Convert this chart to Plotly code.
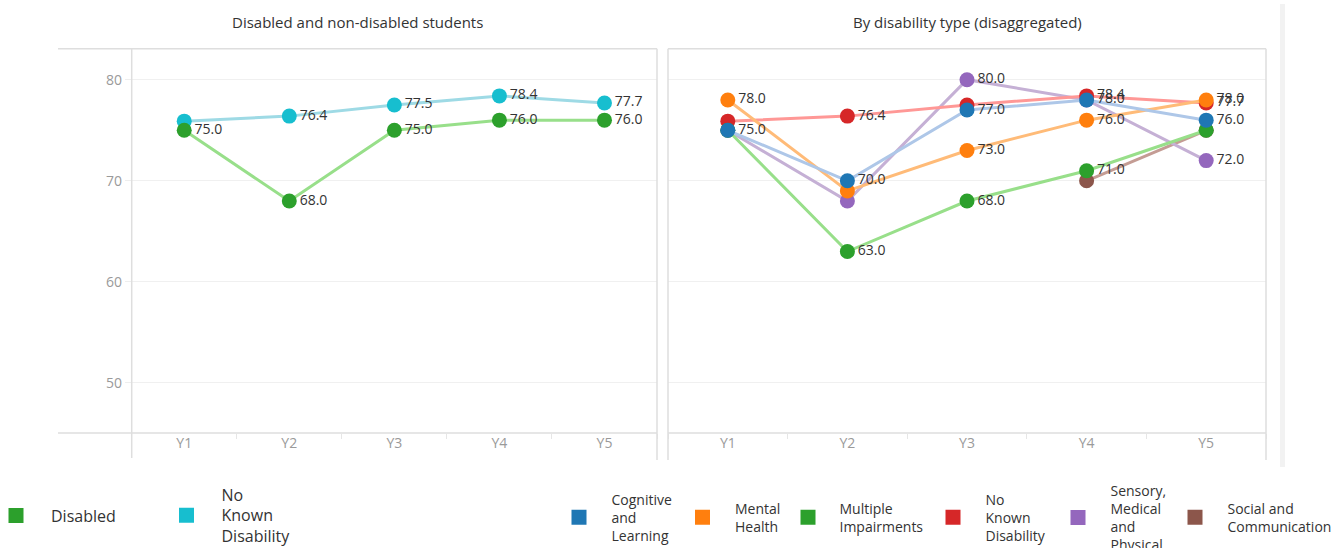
import plotly.graph_objects as go

W, H = 1342, 548

years = ["Y1", "Y2", "Y3", "Y4", "Y5"]

# ---- Left panel: Disabled and non-disabled students ----
disabled = [75.0, 68.0, 75.0, 76.0, 76.0]
no_known_left = [75.9, 76.4, 77.5, 78.4, 77.7]

# ---- Right panel: by disability type ----
cognitive = [75.0, 70.0, 77.0, 78.0, 76.0]
mental = [78.0, 69.0, 73.0, 76.0, 78.0]
multiple = [75.0, 63.0, 68.0, 71.0, 75.0]
no_known_right = [75.9, 76.4, 77.5, 78.4, 77.7]
sensory = [75.0, 68.0, 80.0, 78.0, 72.0]
social = [None, None, None, 70.0, 75.0]

# data labels that remain visible (overlapping ones are hidden in the original)
show_disabled = [1, 1, 1, 1, 1]
show_no_known_left = [0, 1, 1, 1, 1]
show_cognitive = [1, 1, 1, 1, 1]
show_mental = [1, 0, 1, 1, 1]
show_multiple = [0, 1, 1, 1, 0]
show_no_known_right = [0, 1, 0, 1, 1]
show_sensory = [0, 0, 1, 0, 1]
show_social = [0, 0, 0, 0, 0]

FONT = "Open Sans"


def px_x(p):
    return p / W


def px_y(p):
    return 1 - p / H


def labels(vals, mask):
    return [f"{v:.1f}" if (v is not None and m) else "" for v, m in zip(vals, mask)]


# (legend text, values, label mask, marker colour, line colour, legend id)
left_series = [
    ("Disabled", disabled, show_disabled, "#2ca02c", "#98df8a", "legend"),
    ("No<br>Known<br>Disability", no_known_left, show_no_known_left, "#17becf", "#9edae5", "legend2"),
]
right_series = [
    ("Cognitive<br>and<br>Learning", cognitive, show_cognitive, "#1f77b4", "#aec7e8", "legend3"),
    ("Mental<br>Health", mental, show_mental, "#ff7f0e", "#ffbb78", "legend4"),
    ("Multiple<br>Impairments", multiple, show_multiple, "#2ca02c", "#98df8a", "legend5"),
    ("No<br>Known<br>Disability", no_known_right, show_no_known_right, "#d62728", "#ff9896", "legend6"),
    ("Sensory,<br>Medical<br>and<br>Physical", sensory, show_sensory, "#9467bd", "#c5b0d5", "legend7"),
    ("Social and<br>Communication", social, show_social, "#8c564b", "#c49c94", "legend8"),
]

fig = go.Figure()

# draw in reverse legend order so the first series sits on top
for series, xa, ya in ((left_series, "x", "y"), (right_series, "x2", "y2")):
    for name, vals, mask, mcol, lcol, leg in reversed(series):
        fig.add_trace(go.Scatter(
            x=years, y=vals, xaxis=xa, yaxis=ya,
            mode="lines+markers+text",
            line=dict(color=lcol, width=3),
            marker=dict(color=mcol, size=15, line=dict(width=0)),
            text=labels(vals, mask), textposition="middle right",
            textfont=dict(family=FONT, size=14, color="#333333"),
            connectgaps=False, showlegend=False, hoverinfo="x+y",
            name=name.replace("<br>", " "),
        ))

# legend swatches (square colour keys)
for series in (left_series, right_series):
    for name, vals, mask, mcol, lcol, leg in series:
        fig.add_trace(go.Scatter(
            x=[None], y=[None], mode="markers",
            marker=dict(symbol="square", color=mcol, size=15),
            name=name, legend=leg, showlegend=True,
        ))

# legend placement: swatch centre x (px), swatch centre y (px), item width, font size
legend_pos = {
    "legend": (16, 515.5, 60, 16),
    "legend2": (186.5, 515.5, 60, 16),
    "legend3": (579, 517.5, 55, 14),
    "legend4": (702.5, 517.5, 55, 14),
    "legend5": (808, 517.5, 53, 14),
    "legend6": (953, 517.5, 55, 14),
    "legend7": (1078, 517.5, 55, 14),
    "legend8": (1195, 517.5, 55, 14),
}
leg_layout = {}
for lid, (cx, cy, iw, fs) in legend_pos.items():
    leg_layout[lid] = dict(
        x=px_x(cx - (iw + 10) / 2), y=px_y(cy), xref="paper", yref="paper",
        xanchor="left", yanchor="middle", orientation="v",
        itemwidth=iw, bgcolor="rgba(0,0,0,0)", borderwidth=0,
        font=dict(family=FONT, size=fs, color="#333333"),
        itemclick=False, itemdoubleclick=False,
    )

xaxis_common = dict(
    type="category", range=[-0.5, 4.5], showgrid=False, zeroline=False, showline=False,
    ticks="outside", tickson="boundaries", ticklen=5, tickcolor="#e6e6e6",
    tickfont=dict(family=FONT, size=14, color="#9a9a9a"), fixedrange=True,
)
yaxis_common = dict(
    range=[45.05, 83.07], tick0=0, dtick=10, showgrid=True, gridcolor="#f0f0f0", gridwidth=1,
    zeroline=False, showline=False, fixedrange=True,
)

frame = "#dedede"
lines = [
    (58, 48.7, 657, 48.7), (58, 433, 657, 433), (131.7, 48.7, 131.7, 458), (657, 48.7, 657, 460),
    (668, 48.7, 1266, 48.7), (668, 433, 1266, 433), (668, 48.7, 668, 460), (1266, 48.7, 1266, 460),
]
shapes = [dict(type="line", xref="paper", yref="paper", x0=px_x(a), y0=px_y(b), x1=px_x(c), y1=px_y(d),
               line=dict(color=frame, width=1.5), layer="above") for a, b, c, d in lines]
shapes.append(dict(type="rect", xref="paper", yref="paper", x0=px_x(1280), x1=px_x(1285),
                   y0=px_y(467), y1=px_y(4), fillcolor="#f2f2f2", line=dict(width=0), layer="below"))

annotations = [
    dict(text="Disabled and non-disabled students", x=px_x(357.5), y=px_y(22), xref="paper", yref="paper",
         showarrow=False, xanchor="center", yanchor="middle", font=dict(family=FONT, size=15, color="#333333")),
    dict(text="By disability type (disaggregated)", x=px_x(967), y=px_y(22), xref="paper", yref="paper",
         showarrow=False, xanchor="center", yanchor="middle", font=dict(family=FONT, size=15, color="#333333")),
]

fig.update_layout(
    width=W, height=H, autosize=False,
    margin=dict(l=0, r=0, t=0, b=0, autoexpand=False),
    paper_bgcolor="white", plot_bgcolor="white",
    font=dict(family=FONT, color="#333333"),
    xaxis=dict(domain=[px_x(131.7), px_x(657)], anchor="y", **xaxis_common),
    xaxis2=dict(domain=[px_x(668), px_x(1266)], anchor="y2", **xaxis_common),
    yaxis=dict(domain=[px_y(433), px_y(48.7)], anchor="x", ticks="outside", ticklen=6, tickcolor="#eeeeee",
               tickfont=dict(family=FONT, size=14, color="#9a9a9a"), **yaxis_common),
    yaxis2=dict(domain=[px_y(433), px_y(48.7)], anchor="x2", matches="y", showticklabels=False, ticks="",
                **yaxis_common),
    shapes=shapes, annotations=annotations,
    **leg_layout,
)

fig.write_html("out.html", config={"displayModeBar": False})
